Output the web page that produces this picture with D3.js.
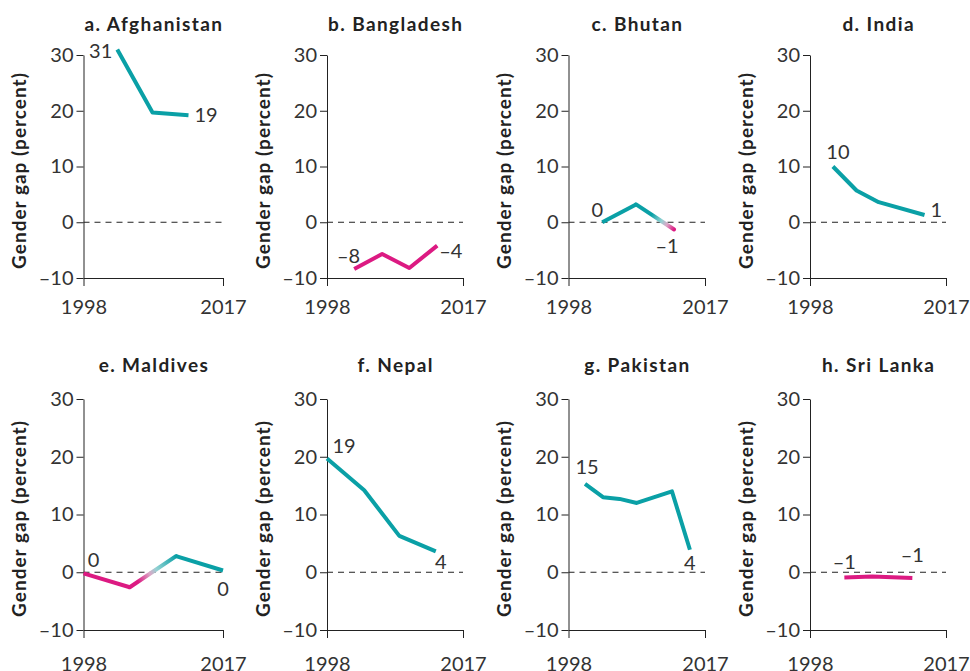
<!DOCTYPE html>
<html>
<head>
<meta charset="utf-8">
<script src="https://cdn.jsdelivr.net/npm/d3@7"></script>
<style>
  html, body { margin: 0; padding: 0; background: #fff; }
  svg { display: block; }
  text { font-family: Lato, "Noto Sans", sans-serif; }
</style>
</head>
<body>
<svg id="chart" width="970" height="671"></svg>
<script>
// ---------------- DATA ----------------
const titles = ["a. Afghanistan", "b. Bangladesh", "c. Bhutan", "d. India",
                "e. Maldives", "f. Nepal", "g. Pakistan", "h. Sri Lanka"];

const afghanistanYears = [2002.6, 2007.4, 2012.3];
const afghanistanValues = [31, 19.7, 19.2];

const bangladeshYears = [2001.8, 2005.7, 2009.5, 2013.4];
const bangladeshValues = [-8.4, -5.7, -8.2, -4.2];

const bhutanYears = [2002.7, 2007.4, 2012.7];
const bhutanValues = [0, 3.2, -1.3];

const indiaYears = [2001.2, 2004.5, 2007.6, 2014.0];
const indiaValues = [10.0, 5.7, 3.6, 1.3];

const maldivesYears = [1998, 2004.3, 2010.6, 2017];
const maldivesValues = [-0.2, -2.6, 2.8, 0.3];

const nepalYears = [1998, 2003.2, 2008.1, 2013.2];
const nepalValues = [19.7, 14.2, 6.3, 3.6];

const pakistanYears = [2000.3, 2002.8, 2005.1, 2007.5, 2012.4, 2014.9];
const pakistanValues = [15.3, 13.0, 12.7, 12.0, 14.0, 3.9];

const sriLankaYears = [2002.8, 2006.7, 2012.3];
const sriLankaValues = [-0.9, -0.75, -1.0];

const firstLabels = ["31", "–8", "0", "10", "0", "19", "15", "–1"];
const lastLabels  = ["19", "–4", "–1", "1", "0", "4", "4", "–1"];

const yTicks = [-10, 0, 10, 20, 30];
const xTicks = [1998, 2017];
const yAxisTitle = "Gender gap (percent)";

const seriesYears = [afghanistanYears, bangladeshYears, bhutanYears, indiaYears,
                     maldivesYears, nepalYears, pakistanYears, sriLankaYears];
const seriesValues = [afghanistanValues, bangladeshValues, bhutanValues, indiaValues,
                      maldivesValues, nepalValues, pakistanValues, sriLankaValues];

// ---------------- LAYOUT / STYLE ----------------
const TEAL = "#0aa0a6";
const MAGENTA = "#dc1a82";
const LIGHT_TEAL = "#93d2d3";
const LIGHT_PINK = "#dba7c6";
const colX = [83.5, 327, 568.5, 810];
const colW = [139.5, 136, 136.5, 136];
const rowTop = [55, 399];
const rowBottom = [278, 630];
const titleBaseline = [31, 372];
const xLabelPad = [14, 19];

// label offsets (center of label relative to point) [dx, dy, anchor]
const firstPlace = [[-5, 2, "end"], [6, -13, "end"], [-5, -12, "middle"], [5, -15, "middle"],
                    [10, -13, "middle"], [17, -12, "middle"], [2, -17, "middle"], [0, -15, "middle"]];
const lastPlace  = [[6, 0, "start"], [2, 5, "start"], [-7, 17, "middle"], [6, -5, "start"],
                    [0, 18, "middle"], [5, 11, "middle"], [0, 13, "middle"], [0, -23, "middle"]];

const svg = d3.select("#chart");
const defs = svg.append("defs");
const fmtMinus = d => (d < 0 ? "–" + Math.abs(d) : String(d));

titles.forEach((title, i) => {
  const row = Math.floor(i / 4), col = i % 4;
  const plotW = colW[col];
  const x = d3.scaleLinear().domain([1998, 2017]).range([colX[col], colX[col] + plotW]);
  const y = d3.scaleLinear().domain([-10, 30]).range([rowBottom[row], rowTop[row]]);
  const g = svg.append("g");

  // title
  g.append("text")
    .attr("x", colX[col] + plotW / 2 + 0.7)
    .attr("y", titleBaseline[row])
    .attr("text-anchor", "middle")
    .attr("font-weight", 700)
    .attr("font-size", 19)
    .attr("letter-spacing", 1.4)
    .attr("fill", "#222")
    .text(title);

  // y-axis title
  g.append("text")
    .attr("transform", `translate(${colX[col] - 64},${(rowTop[row] + rowBottom[row]) / 2 + 4}) rotate(-90)`)
    .attr("text-anchor", "middle")
    .attr("dy", "0.35em")
    .attr("font-weight", 700)
    .attr("font-size", 19)
    .attr("letter-spacing", 1)
    .attr("fill", "#222")
    .text(yAxisTitle);

  // zero dashed line
  g.append("line")
    .attr("x1", x(1998)).attr("x2", x(2017))
    .attr("y1", y(0)).attr("y2", y(0))
    .attr("stroke", "#222").attr("stroke-width", 1)
    .attr("stroke-dasharray", "6,5");

  // axes
  const yAxis = d3.axisLeft(y).tickValues(yTicks).tickSizeInner(7).tickSizeOuter(0)
    .tickPadding(3).tickFormat(fmtMinus);
  const yg = g.append("g").attr("transform", `translate(${colX[col]},0)`).call(yAxis);
  const xAxis = d3.axisBottom(x).tickValues(xTicks).tickSizeInner(8).tickSizeOuter(0)
    .tickPadding(xLabelPad[row]).tickFormat(d3.format("d"));
  const xg = g.append("g").attr("transform", `translate(0,${rowBottom[row]})`).call(xAxis);
  [yg, xg].forEach(a => {
    a.selectAll("path,line").attr("stroke", "#222").attr("stroke-width", 1);
    a.selectAll("text").attr("font-size", 20).attr("fill", "#333")
      .attr("font-family", "Lato, 'Noto Sans', sans-serif");
  });

  // data line
  const yrs = seriesYears[i], vals = seriesValues[i];
  const pts = yrs.map((yr, k) => ({ yr, v: vals[k] }));
  const line = d3.line().x(d => x(d.yr)).y(d => y(d.v));
  const sign = v => (v >= 0 ? "pos" : "neg");
  let run = [pts[0]];
  const runs = [];
  for (let k = 0; k < pts.length - 1; k++) {
    const a = pts[k], b = pts[k + 1];
    if (sign(a.v) === sign(b.v)) {
      run.push(b);
    } else {
      if (run.length > 1) runs.push({ type: sign(run[0].v), pts: run });
      runs.push({ type: "mix", pts: [a, b] });
      run = [b];
    }
  }
  if (run.length > 1) runs.push({ type: sign(run[0].v), pts: run });

  runs.forEach((r, j) => {
    let stroke;
    if (r.type === "pos") stroke = TEAL;
    else if (r.type === "neg") stroke = MAGENTA;
    else {
      const a = r.pts[0], b = r.pts[1];
      const t = a.v / (a.v - b.v);
      const c0 = a.v >= 0 ? TEAL : MAGENTA, c1 = b.v >= 0 ? TEAL : MAGENTA;
      const l0 = a.v >= 0 ? LIGHT_TEAL : LIGHT_PINK, l1 = b.v >= 0 ? LIGHT_TEAL : LIGHT_PINK;
      const id = `grad${i}_${j}`;
      const lg = defs.append("linearGradient").attr("id", id)
        .attr("gradientUnits", "userSpaceOnUse")
        .attr("x1", x(a.yr)).attr("y1", y(a.v)).attr("x2", x(b.yr)).attr("y2", y(b.v));
      [[0, c0], [Math.max(0, t - 0.3), c0], [Math.max(0, t - 0.05), l0],
       [Math.min(1, t + 0.1), l1], [1, c1]].forEach(([o, c]) =>
        lg.append("stop").attr("offset", o).attr("stop-color", c));
      stroke = `url(#${id})`;
    }
    g.append("path")
      .attr("d", line(r.pts))
      .attr("fill", "none")
      .attr("stroke", stroke)
      .attr("stroke-width", 4)
      .attr("stroke-linejoin", "round")
      .attr("stroke-linecap", r.type === "mix" ? "round" : "butt");
  });

  // value labels
  const first = pts[0], last = pts[pts.length - 1];
  [[first, firstLabels[i], firstPlace[i]], [last, lastLabels[i], lastPlace[i]]].forEach(([p, txt, pl]) => {
    g.append("text")
      .attr("x", x(p.yr) + pl[0])
      .attr("y", y(p.v) + pl[1])
      .attr("dy", "0.35em")
      .attr("text-anchor", pl[2])
      .attr("font-size", 20)
      .attr("fill", "#333")
      .text(txt);
  });
});
</script>
</body>
</html>
